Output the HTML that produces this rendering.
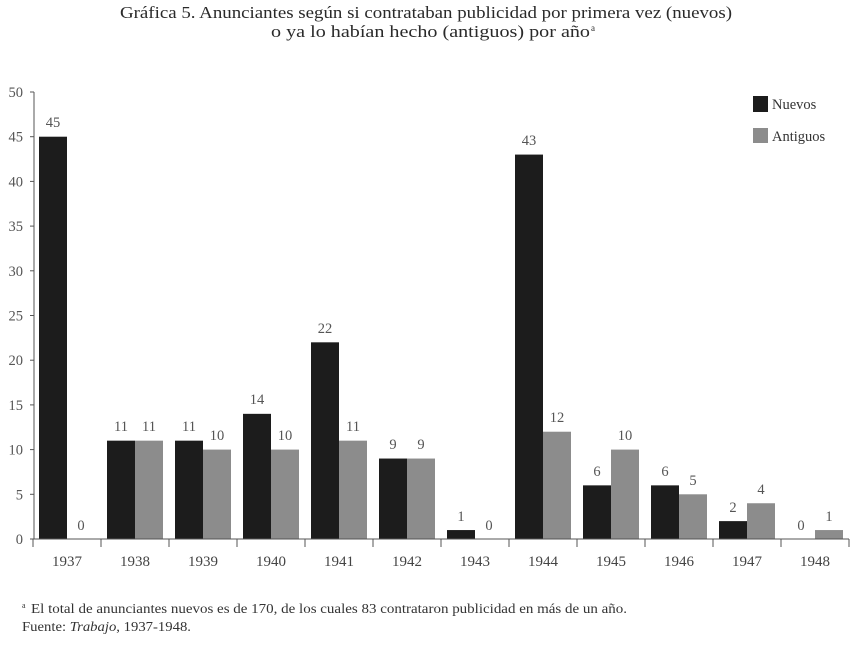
<!DOCTYPE html>
<html><head><meta charset="utf-8"><style>
html,body{margin:0;padding:0;background:#fff;}
svg{display:block;}
text{font-family:"Liberation Serif",serif;}
</style></head><body>
<svg width="853" height="645" viewBox="0 0 853 645" xmlns="http://www.w3.org/2000/svg">
<rect width="853" height="645" fill="#fff"/>
<!-- Title -->
<text x="120" y="18" font-size="16.5" fill="#2a2a2a" textLength="612" lengthAdjust="spacingAndGlyphs">Gráfica 5. Anunciantes según si contrataban publicidad por primera vez (nuevos)</text>
<text x="271" y="37" font-size="16.5" fill="#2a2a2a" textLength="319" lengthAdjust="spacingAndGlyphs">o ya lo habían hecho (antiguos) por año</text>
<text x="591" y="31" font-size="9" fill="#2a2a2a">a</text>

<!-- Y axis -->
<g stroke="#555" stroke-width="1">
<line x1="34" y1="92" x2="34" y2="539"/>
<line x1="30" y1="92" x2="34" y2="92"/>
<line x1="30" y1="136.7" x2="34" y2="136.7"/>
<line x1="30" y1="181.4" x2="34" y2="181.4"/>
<line x1="30" y1="226.1" x2="34" y2="226.1"/>
<line x1="30" y1="270.8" x2="34" y2="270.8"/>
<line x1="30" y1="315.5" x2="34" y2="315.5"/>
<line x1="30" y1="360.2" x2="34" y2="360.2"/>
<line x1="30" y1="404.9" x2="34" y2="404.9"/>
<line x1="30" y1="449.6" x2="34" y2="449.6"/>
<line x1="30" y1="494.3" x2="34" y2="494.3"/>
<line x1="30" y1="539" x2="34" y2="539"/>
</g>
<g font-size="14.5" fill="#555" text-anchor="end">
<text x="23" y="97">50</text>
<text x="23" y="141.7">45</text>
<text x="23" y="186.4">40</text>
<text x="23" y="231.1">35</text>
<text x="23" y="275.8">30</text>
<text x="23" y="320.5">25</text>
<text x="23" y="365.2">20</text>
<text x="23" y="409.9">15</text>
<text x="23" y="454.6">10</text>
<text x="23" y="499.3">5</text>
<text x="23" y="544">0</text>
</g>

<!-- Bars: Nuevos -->
<g fill="#1c1c1c">
<rect x="39" y="136.7" width="28" height="402.3"/>
<rect x="107" y="440.66" width="28" height="98.34"/>
<rect x="175" y="440.66" width="28" height="98.34"/>
<rect x="243" y="413.84" width="28" height="125.16"/>
<rect x="311" y="342.32" width="28" height="196.68"/>
<rect x="379" y="458.54" width="28" height="80.46"/>
<rect x="447" y="530.06" width="28" height="8.94"/>
<rect x="515" y="154.58" width="28" height="384.42"/>
<rect x="583" y="485.36" width="28" height="53.64"/>
<rect x="651" y="485.36" width="28" height="53.64"/>
<rect x="719" y="521.12" width="28" height="17.88"/>
</g>
<!-- Bars: Antiguos -->
<g fill="#8c8c8c">
<rect x="135" y="440.66" width="28" height="98.34"/>
<rect x="203" y="449.6" width="28" height="89.4"/>
<rect x="271" y="449.6" width="28" height="89.4"/>
<rect x="339" y="440.66" width="28" height="98.34"/>
<rect x="407" y="458.54" width="28" height="80.46"/>
<rect x="543" y="431.72" width="28" height="107.28"/>
<rect x="611" y="449.6" width="28" height="89.4"/>
<rect x="679" y="494.3" width="28" height="44.7"/>
<rect x="747" y="503.24" width="28" height="35.76"/>
<rect x="815" y="530.06" width="28" height="8.94"/>
</g>

<!-- Value labels -->
<g font-size="14.5" fill="#555" text-anchor="middle">
<text x="53" y="127">45</text><text x="81" y="530">0</text>
<text x="121" y="431">11</text><text x="149" y="431">11</text>
<text x="189" y="431">11</text><text x="217" y="440">10</text>
<text x="257" y="404">14</text><text x="285" y="440">10</text>
<text x="325" y="333">22</text><text x="353" y="431">11</text>
<text x="393" y="449">9</text><text x="421" y="449">9</text>
<text x="461" y="521">1</text><text x="489" y="530">0</text>
<text x="529" y="145">43</text><text x="557" y="422">12</text>
<text x="597" y="476">6</text><text x="625" y="440">10</text>
<text x="665" y="476">6</text><text x="693" y="485">5</text>
<text x="733" y="512">2</text><text x="761" y="494">4</text>
<text x="801" y="530">0</text><text x="829" y="521">1</text>
</g>

<!-- X axis -->
<g stroke="#555" stroke-width="1">
<line x1="33" y1="539" x2="849" y2="539"/>
<line x1="33" y1="539" x2="33" y2="547"/>
<line x1="101" y1="539" x2="101" y2="547"/>
<line x1="169" y1="539" x2="169" y2="547"/>
<line x1="237" y1="539" x2="237" y2="547"/>
<line x1="305" y1="539" x2="305" y2="547"/>
<line x1="373" y1="539" x2="373" y2="547"/>
<line x1="441" y1="539" x2="441" y2="547"/>
<line x1="509" y1="539" x2="509" y2="547"/>
<line x1="577" y1="539" x2="577" y2="547"/>
<line x1="645" y1="539" x2="645" y2="547"/>
<line x1="713" y1="539" x2="713" y2="547"/>
<line x1="781" y1="539" x2="781" y2="547"/>
<line x1="849" y1="539" x2="849" y2="547"/>
</g>
<g font-size="15" fill="#444" text-anchor="middle">
<text x="67" y="566">1937</text>
<text x="135" y="566">1938</text>
<text x="203" y="566">1939</text>
<text x="271" y="566">1940</text>
<text x="339" y="566">1941</text>
<text x="407" y="566">1942</text>
<text x="475" y="566">1943</text>
<text x="543" y="566">1944</text>
<text x="611" y="566">1945</text>
<text x="679" y="566">1946</text>
<text x="747" y="566">1947</text>
<text x="815" y="566">1948</text>
</g>

<!-- Legend -->
<rect x="753" y="96" width="15" height="16" fill="#1c1c1c"/>
<text x="772" y="109" font-size="14.5" fill="#333">Nuevos</text>
<rect x="753" y="128" width="15" height="15" fill="#8c8c8c"/>
<text x="772" y="141" font-size="14.5" fill="#333">Antiguos</text>

<!-- Footnote -->
<text x="22" y="608" font-size="8" fill="#333">a</text>
<text x="31" y="613" font-size="13.5" fill="#333" textLength="596" lengthAdjust="spacingAndGlyphs">El total de anunciantes nuevos es de 170, de los cuales 83 contrataron publicidad en más de un año.</text>
<text x="22" y="631" font-size="13.5" fill="#333" textLength="169" lengthAdjust="spacingAndGlyphs">Fuente: <tspan font-style="italic">Trabajo</tspan>, 1937-1948.</text>
</svg>
</body></html>
